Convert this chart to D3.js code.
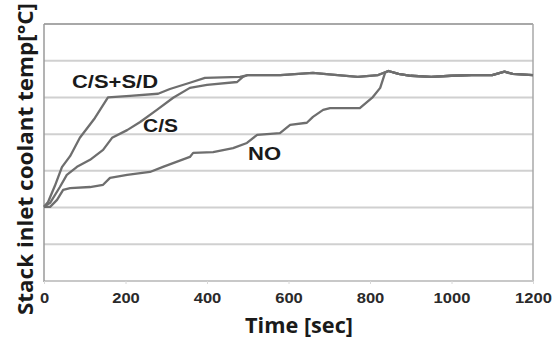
<!DOCTYPE html>
<html><head><meta charset="utf-8">
<script src="https://cdn.jsdelivr.net/npm/d3@7"></script>
<style>body{margin:0;background:#fff}svg{display:block}</style>
</head><body>
<svg id="c" width="560" height="339"></svg>
<script>
const xTicks = [0, 200, 400, 600, 800, 1000, 1200];
const yGrid = [0, 10, 20, 30, 40, 50, 60, 70];

const csdTime = [0, 10, 27, 44, 64, 88, 125, 157, 211, 280, 309, 358, 395, 481, 500, 550, 580, 660, 700, 770, 820, 845, 870, 900, 950, 1000, 1050, 1100, 1130, 1150, 1200];
const csdTemp = [20.2, 21.5, 26, 31, 34, 39, 44.4, 50, 50.4, 51, 52.3, 54, 55.3, 55.6, 56.1, 56.1, 56.1, 56.7, 56.3, 55.6, 56.1, 57.2, 56.4, 55.9, 55.6, 55.9, 56.1, 56.1, 57.0, 56.4, 56.1];

const csTime = [0, 15, 39, 56, 81, 113, 145, 167, 204, 236, 277, 317, 358, 400, 474, 488, 500, 550, 580, 660, 700, 770, 820, 845, 870, 900, 950, 1000, 1050, 1100, 1130, 1150, 1200];
const csTemp = [20.2, 21.3, 25.6, 28.9, 31.1, 33.0, 35.7, 39.0, 41.1, 43.3, 46.6, 49.9, 52.6, 53.4, 54.2, 55.6, 56.1, 56.1, 56.1, 56.7, 56.3, 55.6, 56.1, 57.2, 56.4, 55.9, 55.6, 55.9, 56.1, 56.1, 57.0, 56.4, 56.1];

const noTime = [0, 15, 32, 47, 64, 113, 145, 162, 204, 260, 292, 358, 366, 415, 464, 498, 523, 579, 604, 645, 660, 685, 702, 775, 807, 825, 837, 845, 870, 900, 950, 1000, 1050, 1100, 1130, 1150, 1200];
const noTemp = [20.2, 20.2, 22.1, 24.8, 25.3, 25.6, 26.2, 28.1, 28.9, 29.7, 31.1, 33.8, 34.9, 35.1, 36.2, 37.6, 39.8, 40.3, 42.5, 43.1, 44.7, 46.6, 47.1, 47.1, 50.1, 52.6, 56.7, 57.2, 56.4, 55.9, 55.6, 55.9, 56.1, 56.1, 57.0, 56.4, 56.1];

const seriesNames = ["C/S+S/D", "C/S", "NO"];

const svg = d3.select("#c");
const L = 44, R = 533, T = 24, B = 281;
const x = d3.scaleLinear().domain([0, 1200]).range([L, R]);
const y = d3.scaleLinear().domain([0, 70]).range([B, T]);

// gridlines
svg.append("g").selectAll("line").data(yGrid.slice(1, -1)).join("line")
  .attr("x1", L).attr("x2", R).attr("y1", d => y(d)).attr("y2", d => y(d))
  .attr("stroke", "#d0d0d0").attr("stroke-width", 2);
// top border
svg.append("line").attr("x1", L).attr("x2", R).attr("y1", y(70)).attr("y2", y(70))
  .attr("stroke", "#a8a8a8").attr("stroke-width", 2);
// right border
svg.append("line").attr("x1", R).attr("x2", R).attr("y1", T).attr("y2", B)
  .attr("stroke", "#a8a8a8").attr("stroke-width", 1.5);
// bottom axis
svg.append("line").attr("x1", L).attr("x2", R).attr("y1", B).attr("y2", B)
  .attr("stroke", "#c8c8c8").attr("stroke-width", 2);
// left axis
svg.append("line").attr("x1", L).attr("x2", L).attr("y1", T).attr("y2", B + 1)
  .attr("stroke", "#9a9a9a").attr("stroke-width", 1.5);

// x tick marks and labels
const xa = d3.axisBottom(x).tickValues(xTicks).tickSize(3).tickPadding(8).tickFormat(d3.format("d"));
const gx = svg.append("g").attr("transform", `translate(0,${B})`).call(xa);
gx.select(".domain").remove();
gx.selectAll(".tick line").attr("stroke", "#d8d8d8");
gx.selectAll(".tick text").attr("font-family", "Liberation Sans, Arial, sans-serif")
  .attr("font-size", 15).attr("font-weight", "bold").attr("fill", "#2a2a2a")
  .attr("textLength", d => String(d).length * 9.2).attr("lengthAdjust", "spacingAndGlyphs");

// series
const line = d3.line().x(d => x(d[0])).y(d => y(d[1]));
const data = [
  d3.zip(noTime, noTemp),
  d3.zip(csTime, csTemp),
  d3.zip(csdTime, csdTemp)
];
svg.append("g").selectAll("path").data(data).join("path")
  .attr("d", line).attr("fill", "none").attr("stroke", "#6e6e6e")
  .attr("stroke-width", 2.3).attr("stroke-linejoin", "round");

// labels
const lab = [
  {t: seriesNames[0], x: 72, y: 88, w: 86},
  {t: seriesNames[1], x: 143, y: 132, w: 35},
  {t: seriesNames[2], x: 248, y: 160, w: 33}
];
svg.append("g").selectAll("text").data(lab).join("text")
  .attr("x", d => d.x).attr("y", d => d.y).text(d => d.t)
  .attr("textLength", d => d.w).attr("lengthAdjust", "spacingAndGlyphs")
  .attr("font-family", "Liberation Sans, Arial, sans-serif").attr("font-size", 18)
  .attr("font-weight", "bold").attr("fill", "#1a1a1a");

// axis titles
svg.append("text").attr("x", 245).attr("y", 333)
  .attr("font-family", "Open Sans, Liberation Sans, sans-serif").attr("font-size", 22)
  .attr("font-weight", "bold").attr("fill", "#1a1a1a")
  .attr("textLength", 108).attr("lengthAdjust", "spacingAndGlyphs").text("Time [sec]");
svg.append("text").attr("transform", "translate(33,315) rotate(-90)")
  .attr("font-family", "Open Sans, Liberation Sans, sans-serif").attr("font-size", 22)
  .attr("font-weight", "bold").attr("fill", "#1a1a1a")
  .attr("textLength", 312).attr("lengthAdjust", "spacingAndGlyphs")
  .text("Stack inlet coolant temp[°C]");
</script>
</body></html>
